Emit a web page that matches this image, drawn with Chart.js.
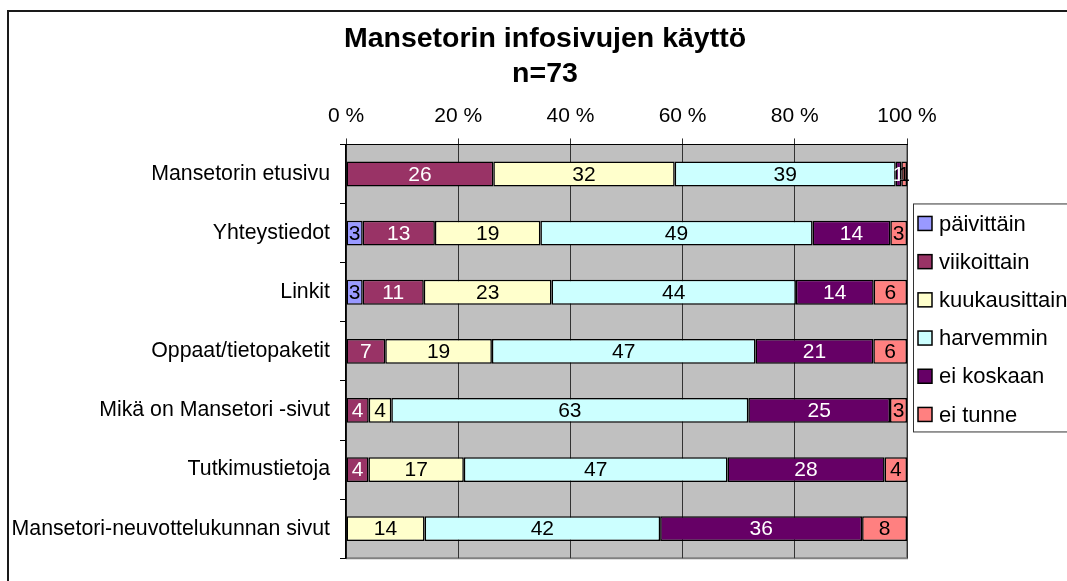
<!DOCTYPE html>
<html>
<head>
<meta charset="utf-8">
<script src="https://cdn.jsdelivr.net/npm/chart.js@4.4.1/dist/chart.umd.min.js"></script>
<style>
  html, body { margin:0; padding:0; background:#fff; overflow:hidden; width:1067px; height:581px; }
  #frame { position:absolute; left:7px; top:10px; width:1100px; height:600px; border:2px solid #1a1a1a; box-sizing:border-box; }
  #wrap { position:absolute; left:0; top:0; width:1090px; height:581px; }
</style>
</head>
<body>
<div id="frame"></div>
<div id="wrap"><canvas id="chart" width="1090" height="581"></canvas></div>
<script>
// categories and answer counts (shown as labels, drawn as share of row total)
const categories = [
  'Mansetorin etusivu',
  'Yhteystiedot',
  'Linkit',
  'Oppaat/tietopaketit',
  'Mikä on Mansetori -sivut',
  'Tutkimustietoja',
  'Mansetori-neuvottelukunnan sivut'
];
const seriesNames = ['päivittäin', 'viikoittain', 'kuukausittain', 'harvemmin', 'ei koskaan', 'ei tunne'];
const paivittain    = [0, 3, 3, 0, 0, 0, 0];
const viikoittain   = [26, 13, 11, 7, 4, 4, 0];
const kuukausittain = [32, 19, 23, 19, 4, 17, 14];
const harvemmin     = [39, 49, 44, 47, 63, 47, 42];
const eiKoskaan     = [1, 14, 14, 21, 25, 28, 36];
const eiTunne       = [1, 3, 6, 6, 3, 4, 8];
const xTickValues   = [0, 20, 40, 60, 80, 100];

const fillColors  = ['#9999FF', '#993366', '#FFFFCC', '#CCFFFF', '#660066', '#FF8080'];
const labelColors = ['#000', '#fff', '#000', '#000', '#fff', '#000'];
const FONT = 'Arial, "Liberation Sans", sans-serif';

const rawSeries = [paivittain, viikoittain, kuukausittain, harvemmin, eiKoskaan, eiTunne];
const rowTotals = categories.map((_, i) => rawSeries.reduce((s, arr) => s + arr[i], 0));

const datasets = rawSeries.map((arr, k) => ({
  label: seriesNames[k],
  data: arr.map((v, i) => v ? v / rowTotals[i] * 100 : null),
  counts: arr,
  backgroundColor: fillColors[k],
  borderColor: '#000',
  borderWidth: 1.5,
  borderSkipped: false,
  barPercentage: 0.42,
  categoryPercentage: 1
}));

// grey plot background + grey right/bottom edge
const plotBg = {
  id: 'plotBg',
  beforeDraw(chart) {
    const { ctx, chartArea: a } = chart;
    ctx.save();
    ctx.fillStyle = '#C0C0C0';
    ctx.fillRect(a.left, a.top, a.right - a.left, a.bottom - a.top);
    ctx.strokeStyle = '#808080';
    ctx.lineWidth = 2;
    ctx.beginPath();
    ctx.moveTo(a.left, a.bottom);
    ctx.lineTo(a.right, a.bottom);
    ctx.lineTo(a.right, a.top);
    ctx.stroke();
    ctx.restore();
  }
};

// value labels inside the segments
const valueLabels = {
  id: 'valueLabels',
  afterDatasetsDraw(chart) {
    const ctx = chart.ctx;
    ctx.save();
    ctx.font = '21px ' + FONT;
    ctx.textAlign = 'center';
    ctx.textBaseline = 'middle';
    chart.data.datasets.forEach((ds, k) => {
      const meta = chart.getDatasetMeta(k);
      meta.data.forEach((bar, i) => {
        const v = ds.counts[i];
        if (!v) return;
        const p = bar.getProps(['x', 'base', 'y'], true);
        ctx.fillStyle = labelColors[k];
        ctx.fillText(String(v), (p.x + p.base) / 2, p.y + 1);
      });
    });
    ctx.restore();
  }
};

// boxed legend to the right of the plot
const boxLegend = {
  id: 'boxLegend',
  afterDraw(chart) {
    const { ctx, chartArea: a } = chart;
    const left = a.right + 6, top = a.top + 59;
    ctx.save();
    ctx.fillStyle = '#fff';
    ctx.fillRect(left, top, 200, 228);
    ctx.strokeStyle = '#333';
    ctx.lineWidth = 1;
    ctx.strokeRect(left + 0.5, top + 0.5, 200, 228);
    ctx.font = '22px ' + FONT;
    ctx.textBaseline = 'middle';
    chart.data.datasets.forEach((ds, k) => {
      const cy = top + 20 + k * 38.2;
      ctx.fillStyle = ds.backgroundColor;
      ctx.fillRect(left + 5, cy - 7, 14, 14);
      ctx.strokeStyle = '#000';
      ctx.lineWidth = 1.5;
      ctx.strokeRect(left + 5, cy - 7, 14, 14);
      ctx.fillStyle = '#000';
      ctx.fillText(ds.label, left + 26, cy + 1);
    });
    ctx.restore();
  }
};

new Chart(document.getElementById('chart').getContext('2d'), {
  type: 'bar',
  data: { labels: categories, datasets: datasets },
  plugins: [plotBg, valueLabels, boxLegend],
  options: {
    indexAxis: 'y',
    responsive: false,
    animation: false,
    layout: { padding: { left: 0, right: 0, top: 0, bottom: 22 } },
    plugins: {
      legend: { display: false },
      tooltip: { enabled: false },
      title: {
        display: true,
        text: ['Mansetorin infosivujen käyttö', 'n=73'],
        color: '#000',
        font: { family: FONT, size: 28.5, weight: 'bold', lineHeight: 1.25 },
        padding: { top: 21, bottom: 1 }
      }
    },
    scales: {
      x: {
        position: 'top',
        stacked: true,
        min: 0,
        max: 100,
        afterBuildTicks(scale) { scale.ticks = xTickValues.map(v => ({ value: v })); },
        ticks: {
          color: '#000',
          font: { family: FONT, size: 21 },
          padding: 10,
          maxRotation: 0,
          autoSkip: false,
          callback: v => v + ' %'
        },
        grid: { color: '#333', lineWidth: 1, tickLength: 6 },
        border: { color: '#000', width: 1 }
      },
      y: {
        stacked: true,
        afterFit(scale) { scale.width = 346; },
        ticks: {
          color: '#000',
          font: { family: FONT, size: 21.3 },
          padding: 10
        },
        grid: { drawOnChartArea: false, color: '#000', tickLength: 6, offset: true },
        border: { color: '#000', width: 1.5 }
      },
      // empty right-hand axis that keeps room for the legend box
      yRoom: {
        type: 'category',
        position: 'right',
        afterFit(scale) { scale.width = 183; },
        ticks: { display: false },
        grid: { display: false },
        border: { display: false }
      }
    }
  }
});
</script>
</body>
</html>
